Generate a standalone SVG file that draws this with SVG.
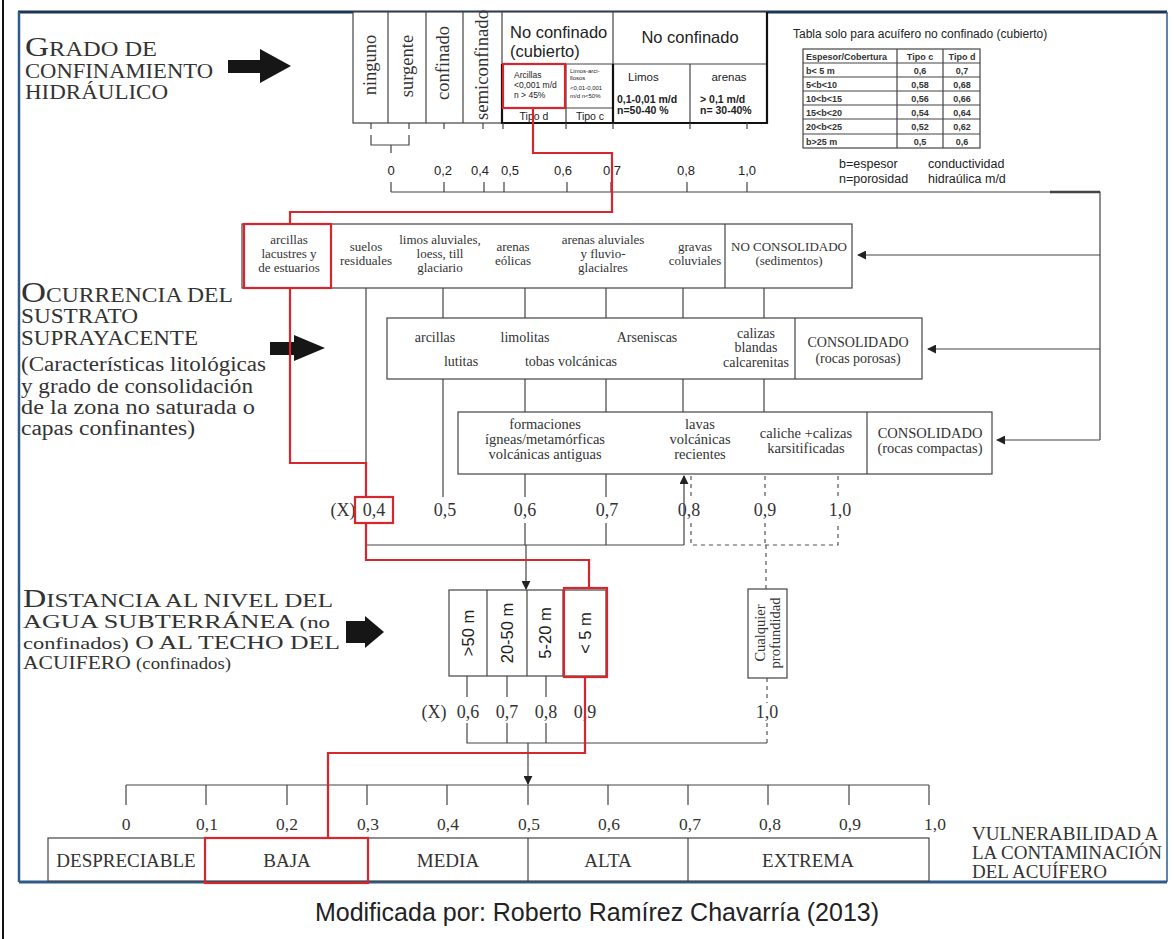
<svg xmlns="http://www.w3.org/2000/svg" width="1174" height="939" viewBox="0 0 1174 939">
<defs>
<style>
.ln{stroke:#444;stroke-width:1.2;fill:none}
.bx{fill:#fff;stroke:#444;stroke-width:1.2}
.thk{stroke:#111;stroke-width:2.2;fill:none}
.red{stroke:#d8262e;stroke-width:2.2;fill:none}
.dash{stroke:#555;stroke-width:1.2;stroke-dasharray:4 4;fill:none}
.sf{font-family:"Liberation Serif","Times New Roman",serif;fill:#333}
.ss{font-family:"Liberation Sans",Arial,sans-serif;fill:#222}
.mid{text-anchor:middle}
.r2{font-size:13px}
.r3{font-size:14px}
.r4{font-size:14.5px}
.val{font-size:18px}
.tb{font-family:"Liberation Sans",Arial,sans-serif;font-size:9px;font-weight:bold;fill:#333}
.blk{fill:#161616}
</style>
<marker id="ah" viewBox="0 0 10 10" refX="9" refY="5" markerWidth="9" markerHeight="9" markerUnits="userSpaceOnUse" orient="auto">
<path d="M0,0 L10,5 L0,10 z" fill="#222"/>
</marker>
</defs>
<rect width="1174" height="939" fill="#fff"/>

<!-- page frame -->
<g id="frame">
<line x1="3" y1="0" x2="3" y2="939" stroke="#111" stroke-width="2"/>
<line x1="18" y1="12" x2="1167" y2="12" stroke="#1d3557" stroke-width="3"/>
<line x1="19" y1="12" x2="19" y2="882" stroke="#2f5b8c" stroke-width="2.5"/>
<line x1="19" y1="882" x2="1167" y2="882" stroke="#2f5b8c" stroke-width="3"/>
<line x1="1167" y1="12" x2="1167" y2="882" stroke="#2f5b8c" stroke-width="1.5"/>
</g>

<!-- section titles -->
<g id="title-grado">
<text class="sf" x="25" y="56" textLength="132" lengthAdjust="spacingAndGlyphs"><tspan font-size="28">G</tspan><tspan font-size="20.5">RADO DE</tspan></text>
<text class="sf" x="25" y="78" font-size="20.5" textLength="188" lengthAdjust="spacingAndGlyphs">CONFINAMIENTO</text>
<text class="sf" x="25" y="99" font-size="20.5" textLength="143" lengthAdjust="spacingAndGlyphs">HIDRÁULICO</text>
<polygon class="blk" points="228,60 260,60 260,49 291,66 260,83 260,73 228,73"/>
</g>

<g id="title-ocurrencia">
<text class="sf" x="21" y="302" textLength="212" lengthAdjust="spacingAndGlyphs"><tspan font-size="30">O</tspan><tspan font-size="20.5">CURRENCIA DEL</tspan></text>
<text class="sf" x="21" y="323" font-size="20.5" textLength="117" lengthAdjust="spacingAndGlyphs">SUSTRATO</text>
<text class="sf" x="21" y="345" font-size="20.5" textLength="177" lengthAdjust="spacingAndGlyphs">SUPRAYACENTE</text>
<text class="sf" x="21" y="371" font-size="20" textLength="245" lengthAdjust="spacingAndGlyphs">(Características litológicas</text>
<text class="sf" x="21" y="393" font-size="20" textLength="232" lengthAdjust="spacingAndGlyphs">y grado de consolidación</text>
<text class="sf" x="21" y="414" font-size="20" textLength="234" lengthAdjust="spacingAndGlyphs">de la zona no saturada o</text>
<text class="sf" x="21" y="435" font-size="20" textLength="174" lengthAdjust="spacingAndGlyphs">capas confinantes)</text>
<polygon class="blk" points="270,342 294,342 294,335 325,348 294,361 294,355 270,355"/>
</g>

<g id="title-distancia">
<text class="sf" x="23" y="607" textLength="310" lengthAdjust="spacingAndGlyphs"><tspan font-size="25">D</tspan><tspan font-size="19.5">ISTANCIA AL NIVEL DEL</tspan></text>
<text class="sf" x="23" y="628" font-size="19.5" textLength="307" lengthAdjust="spacingAndGlyphs">AGUA SUBTERRÁNEA <tspan font-size="17">(no</tspan></text>
<text class="sf" x="23" y="649" font-size="19.5" textLength="317" lengthAdjust="spacingAndGlyphs"><tspan font-size="17">confinados)</tspan> O AL TECHO DEL</text>
<text class="sf" x="23" y="669" font-size="19.5" textLength="208" lengthAdjust="spacingAndGlyphs">ACUIFERO <tspan font-size="17">(confinados)</tspan></text>
<polygon class="blk" points="346,621 365,621 365,616 384,632 365,648 365,643 346,643"/>
</g>

<!-- hydraulic confinement header table -->
<g id="confinement-table">
<rect class="bx" x="353" y="12" width="414" height="111"/>
<line class="ln" x1="388" y1="12" x2="388" y2="123"/>
<line class="ln" x1="426" y1="12" x2="426" y2="123"/>
<line class="ln" x1="463" y1="12" x2="463" y2="123"/>
<line class="ln" x1="502" y1="12" x2="502" y2="64"/>
<line class="ln" x1="613" y1="12" x2="613" y2="64"/>
<line class="ln" x1="502" y1="64" x2="767" y2="64"/>
<line class="ln" x1="502" y1="108" x2="613" y2="108"/>
<line class="ln" x1="566" y1="64" x2="566" y2="123"/>
<line class="ln" x1="690" y1="64" x2="690" y2="123"/>
<path class="thk" d="M502,64 V123 H767 V12"/>
<line class="thk" x1="613" y1="64" x2="613" y2="123"/>
<text class="sf" font-size="18.5" text-anchor="middle" transform="translate(376,65) rotate(-90)">ninguno</text>
<text class="sf" font-size="18.5" text-anchor="middle" transform="translate(413,66) rotate(-90)">surgente</text>
<text class="sf" font-size="18.5" text-anchor="middle" transform="translate(449,63) rotate(-90)">confinado</text>
<text class="sf" font-size="18.5" text-anchor="middle" transform="translate(488,65) rotate(-90)" textLength="110" lengthAdjust="spacingAndGlyphs">semiconfinado</text>
<text class="ss" x="510" y="38" font-size="16.5">No confinado</text>
<text class="ss" x="510" y="57" font-size="16.5">(cubierto)</text>
<text class="ss mid" x="690" y="43" font-size="16.5">No confinado</text>
<text class="ss" x="514" y="78" font-size="8.5">Arcillas</text>
<text class="ss" x="514" y="88" font-size="8.5">&lt;0,001 m/d</text>
<text class="ss" x="514" y="98" font-size="8.5">n &gt; 45%</text>
<text class="ss" x="570" y="73" font-size="6" fill="#555">Limos-arci-</text>
<text class="ss" x="570" y="80" font-size="6" fill="#555">llosos</text>
<text class="ss" x="570" y="90" font-size="6" fill="#555">&lt;0,01-0,001</text>
<text class="ss" x="570" y="98" font-size="6" fill="#555">m/d n&lt;50%</text>
<text class="ss mid" x="534" y="120" font-size="10.5">Tipo d</text>
<text class="ss mid" x="590" y="120" font-size="10.5">Tipo c</text>
<text class="ss" x="628" y="81" font-size="11.5">Limos</text>
<text class="ss" x="617" y="103" font-size="10.5" font-weight="bold">0,1-0,01 m/d</text>
<text class="ss" x="617" y="114" font-size="10.5" font-weight="bold">n=50-40 %</text>
<text class="ss mid" x="729" y="81" font-size="11.5">arenas</text>
<text class="ss" x="700" y="103" font-size="10.5" font-weight="bold">&gt; 0,1 m/d</text>
<text class="ss" x="700" y="114" font-size="10.5" font-weight="bold">n= 30-40%</text>
<rect class="red" x="503" y="64" width="62" height="44"/>
</g>

<!-- thickness / cover table -->
<g id="cover-table">
<text class="ss" x="793" y="38" font-size="12">Tabla solo para acuífero no confinado (cubierto)</text>
<rect class="bx" x="803" y="49" width="177" height="99" stroke="#333"/>
<g class="ln" stroke-width="0.8">
<line x1="897" y1="49" x2="897" y2="148"/>
<line x1="943" y1="49" x2="943" y2="148"/>
<line x1="803" y1="63" x2="980" y2="63"/>
<line x1="803" y1="77" x2="980" y2="77"/>
<line x1="803" y1="91" x2="980" y2="91"/>
<line x1="803" y1="105" x2="980" y2="105"/>
<line x1="803" y1="119" x2="980" y2="119"/>
<line x1="803" y1="134" x2="980" y2="134"/>
</g>
<text class="tb" x="806" y="59.5">Espesor/Cobertura</text>
<text class="tb mid" x="920" y="59.5">Tipo c</text>
<text class="tb mid" x="962" y="59.5">Tipo d</text>
<text class="tb" x="806" y="73.5">b&lt; 5 m</text>
<text class="tb mid" x="920" y="73.5">0,6</text>
<text class="tb mid" x="962" y="73.5">0,7</text>
<text class="tb" x="806" y="87.5">5&lt;b&lt;10</text>
<text class="tb mid" x="920" y="87.5">0,58</text>
<text class="tb mid" x="962" y="87.5">0,68</text>
<text class="tb" x="806" y="101.5">10&lt;b&lt;15</text>
<text class="tb mid" x="920" y="101.5">0,56</text>
<text class="tb mid" x="962" y="101.5">0,66</text>
<text class="tb" x="806" y="115.5">15&lt;b&lt;20</text>
<text class="tb mid" x="920" y="115.5">0,54</text>
<text class="tb mid" x="962" y="115.5">0,64</text>
<text class="tb" x="806" y="130">20&lt;b&lt;25</text>
<text class="tb mid" x="920" y="130">0,52</text>
<text class="tb mid" x="962" y="130">0,62</text>
<text class="tb" x="806" y="144.5">b&gt;25 m</text>
<text class="tb mid" x="920" y="144.5">0,5</text>
<text class="tb mid" x="962" y="144.5">0,6</text>
<text class="ss" x="839" y="168" font-size="12.5">b=espesor</text>
<text class="ss" x="839" y="183" font-size="12.5">n=porosidad</text>
<text class="ss" x="928" y="168" font-size="12.5">conductividad</text>
<text class="ss" x="928" y="183" font-size="12.5">hidraúlica m/d</text>
</g>

<!-- first scale -->
<g id="scale-confinement">
<g class="ss mid" font-size="13">
<text x="391" y="175">0</text>
<text x="443" y="175">0,2</text>
<text x="480" y="175">0,4</text>
<text x="510" y="175">0,5</text>
<text x="563" y="175">0,6</text>
<text x="612" y="175">0,7</text>
<text x="686" y="175">0,8</text>
<text x="747" y="175">1,0</text>
</g>
</g>

<!-- unsaturated zone lithology rows -->
<g id="row-no-consolidado">
<rect class="bx" x="242" y="224" width="610" height="64"/>
<line class="ln" x1="725" y1="224" x2="725" y2="288"/>
<g class="sf mid r2">
<text x="289" y="244">arcillas</text><text x="289" y="258">lacustres y</text><text x="289" y="272">de estuarios</text>
<text x="366" y="251">suelos</text><text x="366" y="265">residuales</text>
<text x="440" y="244">limos aluviales,</text><text x="440" y="258">loess,  till</text><text x="440" y="272">glaciario</text>
<text x="513" y="251">arenas</text><text x="513" y="265">eólicas</text>
<text x="603" y="244">arenas aluviales</text><text x="603" y="258">y fluvio-</text><text x="603" y="272">glacialres</text>
<text x="695" y="251">gravas</text><text x="695" y="265">coluviales</text>
<text x="789" y="251">NO CONSOLIDADO</text><text x="789" y="265">(sedimentos)</text>
</g>
<rect class="red" x="244" y="224" width="87" height="64"/>
</g>

<g id="row-rocas-porosas">
<rect class="bx" x="387" y="318" width="535" height="61"/>
<line class="ln" x1="795" y1="318" x2="795" y2="379"/>
<g class="sf mid r3">
<text x="435" y="342">arcillas</text>
<text x="461" y="366">lutitas</text>
<text x="525" y="342">limolitas</text>
<text x="571" y="366">tobas volcánicas</text>
<text x="647" y="342">Arseniscas</text>
<text x="756" y="338">calizas</text><text x="756" y="352">blandas</text><text x="756" y="367">calcarenitas</text>
<text x="858" y="347">CONSOLIDADO</text><text x="858" y="363">(rocas porosas)</text>
</g>
</g>

<g id="row-rocas-compactas">
<rect class="bx" x="458" y="412" width="534" height="62"/>
<line class="ln" x1="867" y1="412" x2="867" y2="474"/>
<g class="sf mid r4">
<text x="545" y="429">formaciones</text><text x="545" y="444">ígneas/metamórficas</text><text x="545" y="459">volcánicas antiguas</text>
<text x="700" y="429">lavas</text><text x="700" y="444">volcánicas</text><text x="700" y="459">recientes</text>
<text x="806" y="438">caliche +calizas</text><text x="806" y="453">karsitificadas</text>
<text x="930" y="438">CONSOLIDADO</text><text x="930" y="453">(rocas compactas)</text>
</g>
</g>

<g id="values-lithology" class="sf mid val">
<text x="343" y="516">(X)</text>
<text x="374" y="516">0,4</text>
<text x="445" y="516">0,5</text>
<text x="525" y="516">0,6</text>
<text x="607" y="516">0,7</text>
<text x="689" y="516">0,8</text>
<text x="765" y="516">0,9</text>
<text x="840" y="516">1,0</text>
</g>

<!-- depth to water table -->
<g id="depth-boxes">
<rect class="bx" x="449" y="590" width="157" height="86"/>
<line class="ln" x1="487" y1="590" x2="487" y2="676"/>
<line class="ln" x1="527" y1="590" x2="527" y2="676"/>
<line class="ln" x1="563" y1="590" x2="563" y2="676"/>
<g class="ss mid" font-size="16.5">
<text transform="translate(474,633) rotate(-90)">&gt;50 m</text>
<text transform="translate(513,633) rotate(-90)">20-50 m</text>
<text transform="translate(551,633) rotate(-90)">5-20 m</text>
<text transform="translate(591,633) rotate(-90)">&lt; 5 m</text>
</g>
<rect class="red" x="564" y="588" width="43" height="89"/>
</g>

<g id="depth-any">
<rect class="bx" x="748" y="589" width="39" height="89"/>
<g class="sf mid" font-size="14.5">
<text transform="translate(765,633) rotate(-90)">Cualquier</text>
<text transform="translate(780,633) rotate(-90)">profundidad</text>
</g>
</g>

<g id="values-depth" class="sf mid val">
<text x="434" y="718">(X)</text>
<text x="468" y="718">0,6</text>
<text x="507" y="718">0,7</text>
<text x="546" y="718">0,8</text>
<text x="585" y="718">0,9</text>
<text x="767" y="718">1,0</text>
</g>

<!-- vulnerability scale -->
<g id="scale-vulnerability">
<g class="sf mid" font-size="17.5">
<text x="126" y="830">0</text>
<text x="207" y="830">0,1</text>
<text x="287" y="830">0,2</text>
<text x="368" y="830">0,3</text>
<text x="448" y="830">0,4</text>
<text x="529" y="830">0,5</text>
<text x="609" y="830">0,6</text>
<text x="690" y="830">0,7</text>
<text x="770" y="830">0,8</text>
<text x="850" y="830">0,9</text>
<text x="935" y="830">1,0</text>
</g>
<rect class="bx" x="48" y="838" width="881" height="43"/>
<g class="ln">
<line x1="205" y1="838" x2="205" y2="881"/>
<line x1="368" y1="838" x2="368" y2="881"/>
<line x1="528" y1="838" x2="528" y2="881"/>
<line x1="688" y1="838" x2="688" y2="881"/>
</g>
<g class="sf mid" font-size="19">
<text x="126" y="867">DESPRECIABLE</text>
<text x="287" y="867">BAJA</text>
<text x="448" y="867">MEDIA</text>
<text x="608" y="867">ALTA</text>
<text x="808" y="867">EXTREMA</text>
</g>
<rect class="red" x="205" y="838" width="163" height="45"/>
<g class="sf" font-size="19">
<text x="972" y="840">VULNERABILIDAD A</text>
<text x="972" y="859">LA CONTAMINACIÓN</text>
<text x="972" y="878">DEL ACUÍFERO</text>
</g>
</g>

<text class="ss mid" x="597" y="921" font-size="25">Modificada por: Roberto Ramírez Chavarría (2013)</text>

<!-- connectors -->
<g id="connectors">
<g class="ln">
<!-- ticks under the confinement table -->
<path d="M371,123V129M409,123V129M444,123V129M483,123V129M503,123V129M566,123V129M613,123V129M690,123V129M747,123V129"/>
<path d="M371,135V145H409V135M391,145V153"/>
<!-- first axis -->
<path d="M391,192H1100V440"/>
<line x1="1050" y1="192" x2="1100" y2="192" stroke-width="2.4"/>
<path d="M391,182V192M444,182V192M484,182V192M504,182V192M567,182V192M611,182V192M687,182V192M747,182V192"/>
<!-- lithology links -->
<path d="M366,288V497M443,288V318M525,288V318M606,288V318M683,288V318M764,288V318"/>
<path d="M443,379V497M525,379V412M606,379V412M683,379V412M764,379V412"/>
<path d="M525,474V497M606,474V497"/>
<path d="M366,523V545H684M525,523V545M606,523V545"/>
<!-- depth links -->
<path d="M467,676V697M507,676V697M546,676V697"/>
<path d="M467,723V743H767M507,723V743M546,723V743"/>
<!-- bottom axis -->
<path d="M126,785H929"/>
<path d="M126,785V805M206,785V805M287,785V805M367,785V805M447,785V805M528,785V805M608,785V805M688,785V805M768,785V805M849,785V805M929,785V805"/>
</g>
<g class="ln" marker-end="url(#ah)">
<line x1="1100" y1="255" x2="858" y2="255"/>
<line x1="1100" y1="349" x2="928" y2="349"/>
<line x1="1100" y1="440" x2="997" y2="440"/>
<line x1="684" y1="545" x2="684" y2="476"/>
<line x1="526" y1="545" x2="526" y2="589"/>
<line x1="528" y1="743" x2="528" y2="784"/>
</g>
<g class="dash">
<path d="M691,476V497M765,476V497M838,476V497"/>
<path d="M691,523V545H838V523M765,523V545M766,545V589"/>
<path d="M767,678V703M767,723V743"/>
</g>
<!-- highlighted path -->
<g class="red">
<path d="M533,108V153H612V212H290V224"/>
<path d="M290,288V463H366V497"/>
<path d="M366,523V560H589V588"/>
<path d="M585,677V753H328V838"/>
</g>
<rect class="red" x="355" y="497" width="38" height="26"/>
</g>
</svg>
